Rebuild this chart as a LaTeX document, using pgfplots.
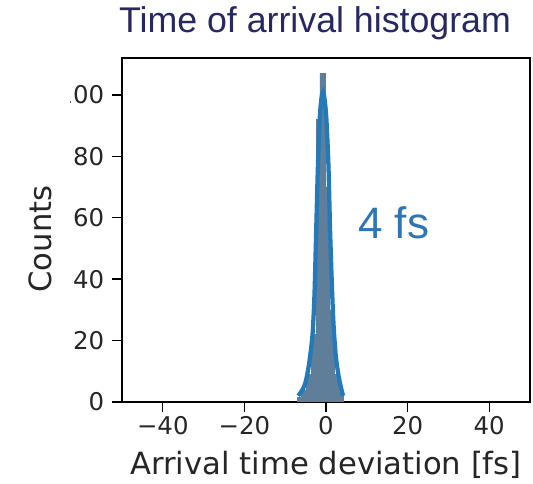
\documentclass[border=0pt]{standalone}
\usepackage{pgfplots}
\pgfplotsset{compat=1.18}
\usepackage{fontspec}
\setmainfont{DejaVu Sans}
\newfontfamily\arial{Liberation Sans}
\definecolor{barfill}{RGB}{94,126,153}
\definecolor{kde}{RGB}{36,122,185}
\definecolor{titlecol}{RGB}{40,40,96}
\definecolor{fscol}{RGB}{46,117,182}
\begin{document}
\begin{tikzpicture}
\begin{axis}[
  scale only axis, width=306pt, height=258pt,
  xmin=-50, xmax=50, ymin=0, ymax=112,
  xtick={-40,-20,0,20,40}, xticklabels={−40,−20,0,20,40},
  ytick={0,20,40,60,80,100}, yticklabels={0,20,40,60,80,100},
  tick align=outside, major tick length=7.5pt,
  xtick pos=bottom, ytick pos=left,
  tick style={black, line width=1pt},
  axis line style={black, line width=1.1pt},
  tick label style={font=\fontsize{18.3}{21}\selectfont, text=black!85},
  xticklabel style={yshift=0pt},
  yticklabel style={xshift=-2.35pt},
  label style={font=\fontsize{23}{27}\selectfont, text=black!85},
  xlabel={Arrival time deviation [fs]},
  xlabel style={at={(axis description cs:0.5,-0.212)}, anchor=base},
  ylabel={Counts},
  ylabel style={at={(axis description cs:-0.201,0.474)}, anchor=center},
]
\addplot[ybar interval, fill=barfill, draw=barfill, line width=0.3pt] coordinates {
  (-7.1,1.5) (-6.0,4) (-4.8,9) (-3.6,22) (-2.4,92) (-1.5,107) (-0.3,70) (0.9,30) (2.1,9) (3.3,3) (4.3,0)};
\addplot[kde, line width=3.2pt, smooth, tension=0.5] coordinates {
  (-6.8,2) (-6.0,3.5) (-5.4,5) (-4.9,7) (-4.2,12) (-3.6,18) (-3.2,24) (-2.8,36)
  (-2.4,56) (-2.0,76) (-1.55,92) (-1.1,99) (-0.7,101) (-0.3,98) (0.1,92)
  (0.6,77) (1.0,56) (1.5,36) (1.9,24) (2.4,15) (2.9,10) (3.3,7) (3.8,4) (4.2,2)};
\node[font=\arial\fontsize{33}{38}\selectfont, text=fscol] at (axis cs:16.6,58.5) {4 fs};
\end{axis}
\fill[white] (-56pt,219pt) rectangle (-39.3pt,238.5pt);
\node[anchor=base, font=\arial\fontsize{26.8}{32}\selectfont, text=titlecol, inner sep=0pt] at (144.75pt,276.75pt) {Time of arrival histogram};
\pgfresetboundingbox
\useasboundingbox (-91.5pt,-61.5pt) rectangle (308.25pt,301.5pt);
\end{tikzpicture}
\end{document}
